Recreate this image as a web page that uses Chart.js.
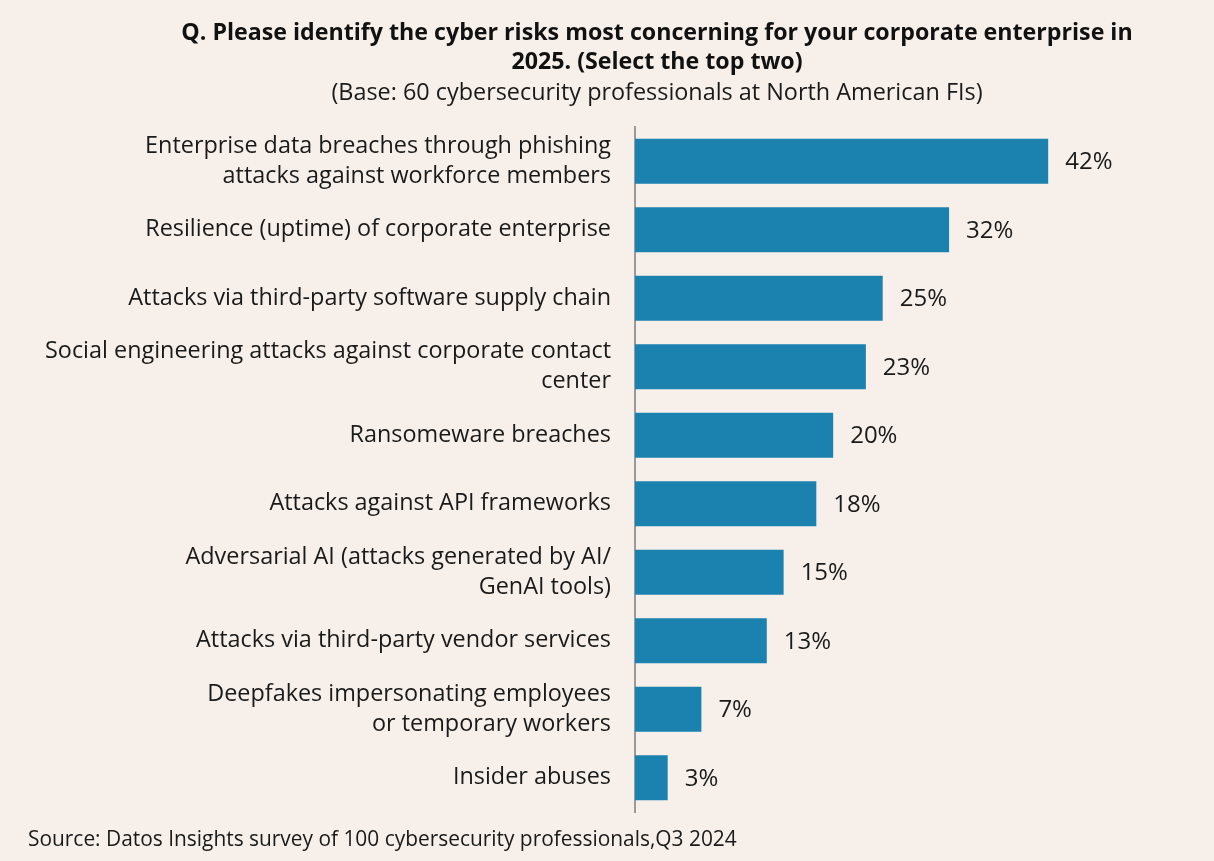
<!DOCTYPE html>
<html><head><meta charset="utf-8">
<script src="https://cdn.jsdelivr.net/npm/chart.js@4/dist/chart.umd.min.js"></script>
<style>html,body{margin:0;padding:0;background:#f7f0ea;}#wrap{width:1214px;height:861px;}</style>
</head><body><div id="wrap"><canvas id="c" width="1214" height="861"></canvas></div>
<script>
const categories = [
  ["Enterprise data breaches through phishing", "attacks against workforce members"],
  "Resilience (uptime) of corporate enterprise",
  "Attacks via third-party software supply chain",
  ["Social engineering attacks against corporate contact", "center"],
  "Ransomeware breaches",
  "Attacks against API frameworks",
  ["Adversarial AI (attacks generated by AI/", "GenAI tools)"],
  "Attacks via third-party vendor services",
  ["Deepfakes impersonating employees", "or temporary workers"],
  "Insider abuses"
];
const values = [41.7, 31.7, 25, 23.3, 20, 18.3, 15, 13.3, 6.7, 3.3];
const valueLabels = ["42%", "32%", "25%", "23%", "20%", "18%", "15%", "13%", "7%", "3%"];
const titleLines = ["Q. Please identify the cyber risks most concerning for your corporate enterprise in", "2025. (Select the top two)"];
const subtitleText = "(Base: 60 cybersecurity professionals at North American FIs)";
const sourceText = "Source: Datos Insights survey of 100 cybersecurity professionals,Q3 2024";

const FONT = "'Open Sans'";
const bgPlugin = {
  id: 'bg',
  beforeDraw(chart) {
    const ctx = chart.ctx;
    ctx.save(); ctx.fillStyle = '#f7f0ea'; ctx.fillRect(0, 0, chart.width, chart.height); ctx.restore();
  }
};
const headerPlugin = {
  id: 'header',
  afterDraw(chart) {
    const ctx = chart.ctx;
    const cx = 657;
    ctx.save();
    ctx.textAlign = 'center';
    ctx.textBaseline = 'middle';
    ctx.fillStyle = '#111';
    ctx.font = "bold 23.2px " + FONT;
    ctx.fillText(titleLines[0], cx, 33);
    ctx.fillText(titleLines[1], cx, 62);
    ctx.fillStyle = '#1a1a1a';
    ctx.font = "23.4px " + FONT;
    ctx.fillText(subtitleText, cx, 93);
    ctx.restore();
  }
};
const valuePlugin = {
  id: 'vals',
  afterDatasetsDraw(chart) {
    const ctx = chart.ctx;
    const meta = chart.getDatasetMeta(0);
    ctx.save();
    ctx.font = "24px " + FONT;
    ctx.fillStyle = '#1a1a1a';
    ctx.textBaseline = 'middle';
    ctx.textAlign = 'left';
    meta.data.forEach((bar, i) => {
      ctx.fillText(valueLabels[i], bar.x + 17, bar.y + 1);
    });
    ctx.restore();
  }
};
const sourcePlugin = {
  id: 'src',
  afterDraw(chart) {
    const ctx = chart.ctx;
    ctx.save();
    ctx.font = "20.9px " + FONT;
    ctx.fillStyle = '#1a1a1a';
    ctx.textBaseline = 'middle';
    ctx.textAlign = 'left';
    ctx.fillText(sourceText, 28, 840);
    ctx.restore();
  }
};
new Chart(document.getElementById('c'), {
  type: 'bar',
  data: { labels: categories, datasets: [{ data: values, backgroundColor: '#1b82b0', borderWidth: 0, barPercentage: 0.66, categoryPercentage: 1 }] },
  options: {
    indexAxis: 'y',
    responsive: false,
    animation: false,
    layout: { padding: { left: 0, right: 38, top: 127, bottom: 49 } },
    plugins: {
      legend: { display: false },
      tooltip: { enabled: false },
      title: { display: false },
      subtitle: { display: false }
    },
    scales: {
      x: { min: 0, max: 54.6, display: false, grid: { display: false } },
      y: {
        grid: { display: false, drawTicks: false },
        border: { display: true, color: '#9a9a9a', width: 2 },
        ticks: { color: '#1a1a1a', font: { family: FONT, size: 23.4, lineHeight: 1.28 }, padding: 24, crossAlign: 'near' },
        afterFit(scale) { scale.width = 635; scale.paddingTop = 0; scale.paddingBottom = 0; }
      }
    }
  },
  plugins: [bgPlugin, valuePlugin, sourcePlugin, headerPlugin]
});
</script></body></html>
